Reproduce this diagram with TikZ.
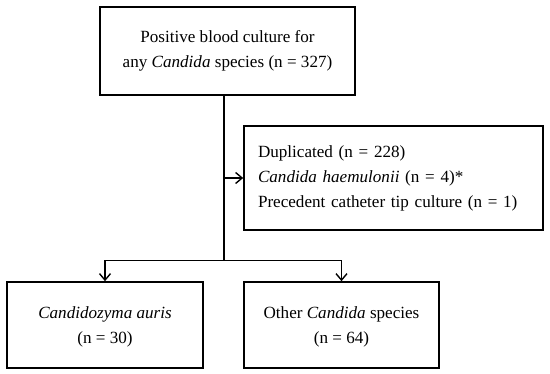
\documentclass[tikz,border=0pt]{standalone}
\usepackage{fontspec}
\setmainfont{Liberation Serif}
\usetikzlibrary{arrows.meta}
\begin{document}
\begin{tikzpicture}[x=1pt,y=-1pt,
  box/.style={draw, line width=1.6pt, inner sep=0pt, align=center,
    font=\fontsize{17.1}{25}\selectfont},
  conn/.style={line width=1.6pt},
  arr/.style={conn, -{Straight Barb[length=6.5pt,width=11pt,line width=1.4pt]}}]
\useasboundingbox (0,0) rectangle (550,374);
\node[box, minimum width=255pt, minimum height=88pt] (top) at (227.5,51)
  {Positive blood culture for\\any \textit{Candida} species (n = 327)};
\node[box, align=left, text width=271pt, inner xsep=14pt, minimum height=104pt] (side) at (393.5,178)
  {Duplicated (n = 228)\\\textit{Candida haemulonii} (n = 4)*\\Precedent catheter tip culture (n = 1)};
\node[box, minimum width=196pt, minimum height=86pt, text depth=0pt] (left) at (105,325)
  {\textit{Candidozyma auris}\\(n = 30)};
\node[box, minimum width=195pt, minimum height=86pt, text depth=0pt] (right) at (341.5,325)
  {Other \textit{Candida} species\\(n = 64)};
\coordinate (j) at (224,260.5);
\coordinate (m) at (224,178);
\draw[conn] (top.south -| j) -- (j);
\draw[arr] (m) -- (side.west);
\draw[arr] (j) -| (left.north);
\draw[arr] (j) -| (right.north);
\end{tikzpicture}
\end{document}
